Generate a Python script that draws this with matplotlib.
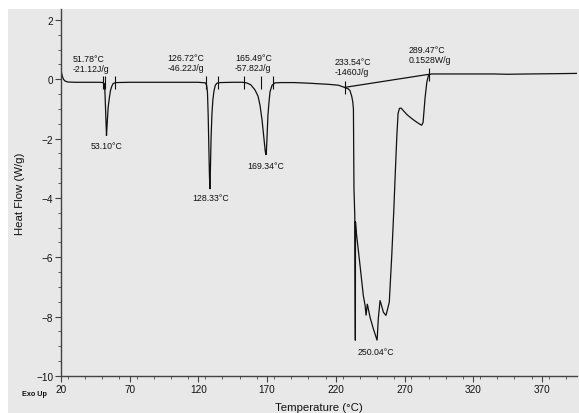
import matplotlib
matplotlib.use("Agg")
import matplotlib.pyplot as plt
import numpy as np
from matplotlib.patches import Rectangle
from matplotlib.ticker import MultipleLocator

plt.rcParams['font.family'] = ['Liberation Sans', 'DejaVu Sans']

# ---- DSC curve ----
temp = [20.0, 20.4, 21.0, 21.8, 23.0, 25.0, 30, 40, 48, 50.5, 51.5, 52.0, 52.5, 53.1,
        53.6, 54.3, 55.2, 56.0, 56.9, 58.0, 60, 70, 90, 110, 120, 125.0, 126.0, 126.6,
        127.1, 127.6, 128.0, 128.33, 128.7, 129.2, 129.8, 130.5, 131.3, 132.3, 133.5,
        136, 145, 152, 155, 158, 161.2, 163.4, 164.8, 166.3, 167.7, 168.7, 169.34,
        169.8, 170.6, 171.4, 172.1, 173.6, 175.7, 180, 190, 200, 215, 222, 226.7, 229,
        230.3, 231.6, 232.3, 232.8, 233.2, 233.8, 234.2, 234.3, 235.0, 237.6, 240.0,
        241.3, 242.0, 242.9, 244.9, 247.3, 250.04, 250.9, 252.2, 254.6, 256.5, 258.9,
        260.7, 262.2, 263.4, 264.4, 265.3, 266.3, 267.5, 269, 272, 276, 280, 282.5,
        283.5, 284.9, 286.2, 287.5, 289.5, 300, 320, 335, 345, 360, 380, 396]
heat_flow = [0.25, 0.22, 0.10, 0.0, -0.06, -0.09, -0.10, -0.10, -0.10, -0.11, -0.14, -0.45,
             -1.1, -1.9, -1.5, -0.95, -0.62, -0.38, -0.24, -0.14, -0.11, -0.10, -0.10,
             -0.10, -0.10, -0.12, -0.2, -0.45, -1.2, -2.3, -3.2, -3.7, -3.1, -2.0, -1.2,
             -0.7, -0.4, -0.2, -0.13, -0.11, -0.10, -0.10, -0.12, -0.18, -0.36, -0.57,
             -0.87, -1.37, -2.0, -2.45, -2.55, -2.1, -1.2, -0.75, -0.42, -0.2, -0.12,
             -0.11, -0.11, -0.13, -0.17, -0.2, -0.28, -0.32, -0.38, -0.58, -0.75, -1.0,
             -3.7, -4.6, -8.8, -4.8, -5.2, -6.27, -7.29, -7.62, -7.96, -7.57, -8.02,
             -8.41, -8.8, -8.07, -7.45, -7.85, -7.96, -7.51, -5.94, -4.4, -3.0, -1.9,
             -1.15, -0.98, -0.97, -1.05, -1.2, -1.35, -1.48, -1.55, -1.45, -0.64, -0.1,
             0.15, 0.18, 0.18, 0.18, 0.18, 0.17, 0.18, 0.19, 0.2]

# integration limit marks (temperature, heat flow)
limit_temps = [50.3, 51.8, 59.3, 125.5, 134.5, 153.4, 165.3, 174.1, 226.7, 287.8]
limit_vals = [-0.10, -0.10, -0.10, -0.11, -0.11, -0.10, -0.10, -0.11, -0.27, 0.17]

# peak annotations
onset_text = ["51.78°C\n-21.12J/g", "126.72°C\n-46.22J/g", "165.49°C\n-57.82J/g",
              "233.54°C\n-1460J/g", "289.47°C\n0.1528W/g"]
onset_pos = [(28.7, 0.22), (97.7, 0.24), (146.6, 0.25), (219.4, 0.10), (272.8, 0.52)]
peak_text = ["53.10°C", "128.33°C", "169.34°C", "250.04°C"]
peak_pos = [(53.5, -2.22), (128.8, -3.99), (169.2, -2.9), (249.3, -9.16)]

x_ticks = [20, 70, 120, 170, 220, 270, 320, 370]
y_ticks = [2, 0, -2, -4, -6, -8, -10]

W, H = 579, 414
fig = plt.figure(figsize=(W / 100, H / 100), dpi=100, facecolor='white')
bg = Rectangle((8 / W, 0), 1, (H - 10) / H, transform=fig.transFigure,
               facecolor='#e8e8e8', edgecolor='none', zorder=-10)
fig.patches.append(bg)

ax = fig.add_axes([61 / W, (H - 377) / H, (577 - 61) / W, (377 - 10) / H])
ax.set_facecolor('none')

ax.plot(temp, heat_flow, color='#111111', lw=0.9, solid_joinstyle='miter')

# integration limits
ax.vlines(limit_temps, np.array(limit_vals) - 0.22, np.array(limit_vals) + 0.22,
          color='#111111', lw=0.8)
ax.plot([limit_temps[-2], limit_temps[-1]], [limit_vals[-2], limit_vals[-1]],
        color='#111111', lw=0.9)

for t, (x, y) in zip(onset_text, onset_pos):
    ax.text(x, y, t, ha='left', va='bottom', fontsize=6.3, color='#111111',
            linespacing=1.15)
for t, (x, y) in zip(peak_text, peak_pos):
    ax.text(x, y, t, ha='center', va='center', fontsize=6.3, color='#111111')

ax.set_xlim(20, 395.5)
ax.set_ylim(-10, 2.37)
ax.set_xticks(x_ticks)
ax.set_yticks(y_ticks)
ax.xaxis.set_minor_locator(MultipleLocator(12.5))
ax.yaxis.set_minor_locator(MultipleLocator(0.5))
ax.tick_params(axis='both', which='major', direction='out', length=4, width=0.8,
               colors='#444444', labelcolor='#111111', labelsize=7.2, pad=1.5)
ax.tick_params(axis='both', which='minor', direction='out', length=2.5, width=0.6,
               colors='#444444')
for s in ['top', 'right']:
    ax.spines[s].set_visible(False)
for s in ['left', 'bottom']:
    ax.spines[s].set_color('#444444')
    ax.spines[s].set_linewidth(1.0)

ax.set_xlabel('Temperature (°C)', fontsize=8.2, color='#111111', labelpad=6)
ax.set_ylabel('Heat Flow (W/g)', fontsize=8.2, color='#111111', labelpad=8)
fig.text(22 / W, 1 - 395 / H, 'Exo Up', fontsize=5.2, fontweight='bold',
         color='#111111', va='center', ha='left')

fig.savefig('out.png', dpi=100, facecolor=fig.get_facecolor())
